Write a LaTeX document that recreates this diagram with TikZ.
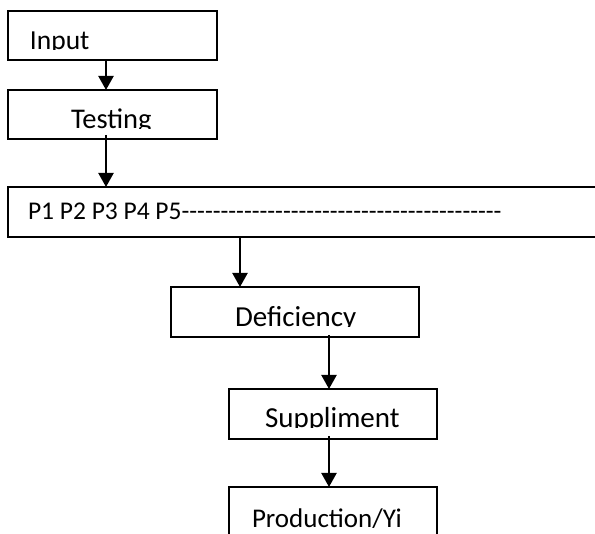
\documentclass[tikz,border=0pt]{standalone}
\usepackage{fontspec}
\setmainfont{Carlito}[Ligatures=TeXOff]
\usetikzlibrary{arrows.meta}
\begin{document}
\begin{tikzpicture}[x=1pt,y=-1pt,
  box/.style={draw, line width=1.6pt, rectangle, anchor=north west, inner sep=0pt, outer sep=0pt},
  lbl/.style={anchor=base west, inner sep=0pt, outer sep=0pt},
  arr/.style={line width=2.2pt, -{Triangle[width=15pt,length=14pt]}}]
\useasboundingbox (0,0) rectangle (595,534);
% boxes
\node[box, minimum width=209pt, minimum height=49pt] (inp) at (8,11) {};
\node[box, minimum width=209pt, minimum height=49pt] (test) at (8,90) {};
\node[box, minimum width=600pt, minimum height=50pt] (pbox) at (8,187) {};
\node[box, minimum width=248pt, minimum height=50pt] (def) at (171,287) {};
\node[box, minimum width=208pt, minimum height=50pt] (sup) at (229,389) {};
\node[box, minimum width=208pt, minimum height=60pt] (prod) at (229,487) {};
% texts
\begin{scope}
\clip (8,11) rectangle (217,49.5);
\node[lbl] (tinp) at (30,49.5) {\fontsize{27.5}{30}\selectfont Input};
\end{scope}
\begin{scope}
\clip (8,90) rectangle (217,128.5);
\node[lbl] (ttest) at (71,128.5) {\fontsize{28.5}{30}\selectfont Testing};
\end{scope}
\node[lbl] (tp) at (28,220) {\fontsize{25.5}{30}\selectfont P1 P2 P3 P4 P5-----------------------------------------};
\begin{scope}
\clip (171,287) rectangle (419,326.5);
\node[lbl] (tdef) at (235,326.5) {\fontsize{29}{30}\selectfont Deficiency};
\end{scope}
\begin{scope}
\clip (229,389) rectangle (437,427.5);
\node[lbl] (tsup) at (265,427.5) {\fontsize{29}{30}\selectfont Suppliment};
\end{scope}
\begin{scope}
\clip (229,487) rectangle (437,527.5);
\node[lbl] (tprod) at (252,527.5) {\fontsize{27}{30}\selectfont Production/Yi};
\end{scope}
% connectors
\coordinate (c1) at (106,0);
\coordinate (c3) at (240,0);
\coordinate (c4) at (329,0);
\draw[arr] (inp.south -| c1) -- (test.north -| c1);
\draw[arr] ([yshift=4pt]test.south -| c1) -- (pbox.north -| c1);
\draw[arr] (pbox.south -| c3) -- (def.north -| c3);
\draw[arr] ([yshift=2pt]def.south -| c4) -- (sup.north -| c4);
\draw[arr] ([yshift=3pt]sup.south -| c4) -- (prod.north -| c4);
\end{tikzpicture}
\end{document}
